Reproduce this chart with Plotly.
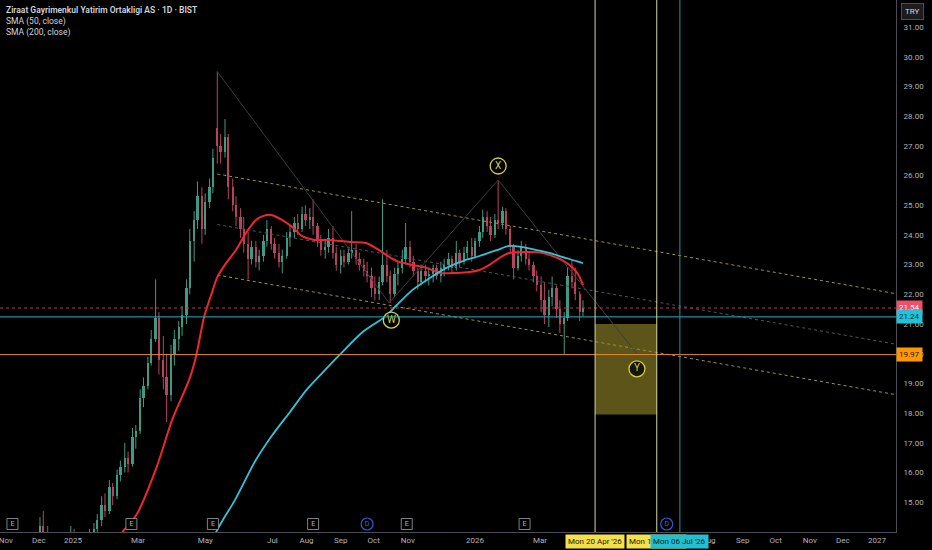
import pandas as pd
import plotly.graph_objects as go

# two bars per week (Mon / Thu), prices
bar_dates = pd.date_range("2024-11-04", "2026-04-09", freq="W-MON").union(
    pd.date_range("2024-11-04", "2026-04-09", freq="W-THU"))

open_ = [
    13.2, 13.4, 13.3, 12.9, 13.0, 12.8, 13.0, 13.5,
    13.6, 14.2, 13.9, 13.5, 13.4, 13.2, 13.3, 13.5, 13.6,
    13.9, 13.7, 13.6, 13.8, 13.7, 14.0, 14.1, 14.4, 14.9,
    14.7, 15.5, 15.2, 15.9, 16.2, 16.5, 16.3, 17.2,
    17.4, 18.5, 18.9, 19.7, 20.5, 21.2, 19.8, 19.2, 18.6,
    20.0, 20.5, 20.9, 21.3, 22.2, 23.8, 24.5, 25.3,
    24.2, 25.1, 25.6, 27.6, 27.0, 26.8, 27.3, 25.6, 25.0,
    24.6, 24.2, 23.7, 23.2, 23.6, 23.1, 23.3, 23.8, 24.2,
    23.7, 23.4, 23.1, 23.3, 23.9, 24.1, 24.4, 24.2, 24.7,
    24.5, 24.6, 24.3, 23.8, 23.5, 23.6, 23.9, 23.4,
    23.0, 23.3, 23.1, 23.4, 23.5, 23.2, 23.0, 22.8, 22.6,
    22.2, 22.0, 22.4, 23.0, 22.6, 22.0, 22.7, 22.9, 23.2,
    23.6, 23.1, 22.8, 22.4, 22.8, 22.6, 22.7, 22.9,
    22.6, 22.9, 23.0, 23.2, 22.9, 23.4, 23.1, 23.4, 23.6,
    23.3, 23.8, 24.1, 24.6, 24.3, 24.0, 24.5, 24.4, 24.8,
    24.2, 23.6, 22.9, 23.3, 23.6, 23.2, 23.0, 22.6,
    22.3, 21.8, 21.3, 21.9, 22.2, 21.5, 21.0, 21.2, 22.6,
    22.4, 22.0, 21.4,
]
high = [
    13.6, 13.7, 13.5, 13.2, 13.3, 13.1, 13.6, 13.8,
    14.5, 14.7, 14.2, 13.8, 13.7, 13.5, 13.6, 13.9, 14.2,
    14.1, 13.9, 13.9, 14.0, 14.1, 14.3, 14.6, 15.2, 15.3,
    15.75, 15.65, 16.1, 16.4, 17.0, 16.7, 17.5, 17.6,
    18.8, 19.2, 19.9, 20.8, 22.5, 21.4, 20.6, 20.0, 20.3,
    20.8, 21.1, 21.6, 22.5, 24.2, 24.8, 25.8, 25.6,
    25.4, 25.9, 26.9, 29.5, 27.4, 27.9, 27.4, 25.9, 25.3,
    24.9, 24.6, 24.1, 23.8, 23.8, 23.5, 24.0, 24.5, 24.3,
    23.9, 23.7, 23.5, 24.1, 24.3, 24.6, 24.7, 24.95, 25.0,
    24.9, 25.2, 24.4, 24.0, 23.8, 24.2, 24.3, 23.6,
    23.5, 23.5, 23.6, 24.8, 23.7, 23.4, 23.2, 23.1, 22.9,
    22.6, 22.6, 25.2, 23.5, 22.8, 22.9, 23.1, 23.5, 24.4,
    23.8, 23.3, 22.9, 23.0, 23.0, 22.9, 23.0, 23.0,
    23.1, 23.2, 23.4, 23.3, 23.8, 23.5, 23.6, 23.8, 23.9,
    23.9, 24.3, 24.85, 24.8, 24.6, 24.7, 25.85, 24.95, 24.9,
    24.3, 23.7, 23.5, 23.8, 23.7, 23.4, 23.1, 22.8,
    22.6, 22.4, 22.15, 22.6, 22.3, 21.8, 21.4, 22.9, 23.15,
    22.9, 22.1, 21.8,
]
low = [
    12.9, 13.1, 12.8, 12.6, 12.7, 12.5, 12.9, 13.2,
    13.5, 13.8, 13.4, 13.2, 13.0, 12.9, 13.0, 13.3, 13.5,
    13.6, 13.4, 13.3, 13.5, 13.6, 13.8, 14.0, 14.2, 14.5,
    14.6, 14.9, 15.1, 15.7, 16.0, 16.0, 16.2, 16.8,
    17.3, 18.2, 18.8, 19.6, 20.4, 19.3, 18.8, 17.7, 18.4,
    19.6, 20.1, 20.6, 21.0, 22.0, 23.1, 24.2, 23.7,
    24.0, 24.9, 25.4, 26.4, 26.4, 26.6, 25.2, 24.8, 24.3,
    23.9, 23.4, 22.5, 23.0, 22.9, 22.8, 23.1, 23.6, 23.5,
    23.2, 22.9, 22.7, 23.2, 23.6, 23.9, 24.0, 24.1, 24.3,
    24.2, 24.0, 23.6, 23.3, 23.2, 23.4, 23.2, 22.8,
    22.7, 22.9, 23.0, 23.2, 23.0, 22.8, 22.6, 22.4, 21.9,
    21.8, 21.8, 22.3, 22.4, 21.7, 21.9, 22.3, 22.7, 23.0,
    22.9, 22.6, 22.15, 22.3, 22.4, 22.3, 22.4, 22.5,
    22.4, 22.6, 22.8, 22.7, 22.8, 22.9, 23.0, 23.2, 23.1,
    23.2, 23.6, 23.9, 24.1, 23.8, 23.9, 24.2, 24.2, 24.0,
    23.4, 22.5, 22.8, 23.1, 23.0, 22.8, 22.4, 22.1,
    21.4, 21.0, 20.9, 21.6, 21.2, 20.7, 19.97, 21.1, 22.2,
    21.8, 21.1, 21.25,
]
close = [
    13.4, 13.3, 12.9, 13.0, 12.8, 13.0, 13.5, 13.6,
    14.2, 13.9, 13.5, 13.4, 13.2, 13.3, 13.5, 13.6, 13.9,
    13.7, 13.6, 13.8, 13.7, 14.0, 14.1, 14.4, 14.9, 14.7,
    15.5, 15.2, 15.9, 16.2, 16.5, 16.3, 17.2, 17.4,
    18.5, 18.9, 19.7, 20.5, 21.2, 19.8, 19.2, 18.6, 20.0,
    20.5, 20.9, 21.3, 22.2, 23.8, 24.5, 25.3, 24.2,
    25.1, 25.6, 26.6, 27.0, 26.8, 27.3, 25.6, 25.0, 24.6,
    24.2, 23.7, 23.2, 23.6, 23.1, 23.3, 23.8, 24.2, 23.7,
    23.4, 23.1, 23.3, 23.9, 24.1, 24.4, 24.2, 24.7, 24.5,
    24.6, 24.3, 23.8, 23.5, 23.6, 23.9, 23.4, 23.0,
    23.3, 23.1, 23.4, 23.5, 23.2, 23.0, 22.8, 22.6, 22.2,
    22.0, 22.4, 23.0, 22.6, 22.0, 22.7, 22.9, 23.2, 23.6,
    23.1, 22.8, 22.4, 22.8, 22.6, 22.7, 22.9, 22.6,
    22.9, 23.0, 23.2, 22.9, 23.4, 23.1, 23.4, 23.6, 23.3,
    23.8, 24.1, 24.6, 24.3, 24.0, 24.5, 24.4, 24.8, 24.2,
    23.6, 22.9, 23.3, 23.6, 23.2, 23.0, 22.6, 22.3,
    21.8, 21.3, 21.9, 22.2, 21.5, 21.0, 21.2, 22.6, 22.4,
    22.0, 21.4, 21.54,
]

# moving averages
sma50_dates = ["2025-02-08", "2025-02-15", "2025-02-28", "2025-03-18", "2025-04-01",
               "2025-04-17", "2025-04-23", "2025-04-30", "2025-05-07", "2025-05-12",
               "2025-05-20", "2025-05-29", "2025-06-07", "2025-06-16", "2025-06-23",
               "2025-06-30", "2025-07-10", "2025-07-19", "2025-07-28", "2025-08-08",
               "2025-08-22", "2025-09-09", "2025-09-24", "2025-10-06", "2025-10-15",
               "2025-10-24", "2025-11-05", "2025-11-18", "2025-11-30", "2025-12-15",
               "2025-12-27", "2026-01-05", "2026-01-14", "2026-01-23", "2026-02-01",
               "2026-02-13", "2026-02-26", "2026-03-10", "2026-03-21", "2026-03-30",
               "2026-04-05", "2026-04-09"]
sma50 = [13.56, 14.0, 14.6, 16.19, 17.77,
         19.18, 19.96, 21.24, 22.04, 22.58,
         23.05, 23.49, 24.06, 24.50, 24.64,
         24.67, 24.50, 24.27, 23.96, 23.83,
         23.83, 23.76, 23.73, 23.49, 23.26,
         23.09, 22.99, 22.89, 22.72, 22.72,
         22.75, 22.82, 22.99, 23.22, 23.39,
         23.42, 23.42, 23.32, 23.15, 22.92,
         22.65, 22.31]

sma200_dates = ["2025-05-05", "2025-05-11", "2025-05-17", "2025-05-28", "2025-06-16",
                "2025-07-01", "2025-07-17", "2025-08-01", "2025-08-16", "2025-08-31",
                "2025-09-21", "2025-10-11", "2025-10-22", "2025-11-05", "2025-11-21",
                "2025-12-06", "2025-12-21", "2026-01-05", "2026-01-21", "2026-02-01",
                "2026-02-13", "2026-02-26", "2026-03-10", "2026-03-21", "2026-04-03",
                "2026-04-09"]
sma200 = [13.56, 14.0, 14.40, 15.07, 16.42,
          17.26, 18.04, 18.78, 19.38, 19.96,
          20.73, 21.24, 21.64, 22.14, 22.55,
          22.89, 23.12, 23.29, 23.49, 23.63,
          23.59, 23.49, 23.39, 23.26, 23.12,
          23.05]

# drawings
x_range = ["2024-10-26 17:00", "2027-01-18 05:00"]
y_range = [13.997, 31.909]
chan_dates = ["2025-05-12", "2027-01-18 05:00"]
chan_upper = [26.05, 22.02]
chan_mid = [24.35, 20.32]
chan_lower = [22.65, 18.62]
wxy_dates = ["2025-05-12", "2025-10-15", "2026-01-22", "2026-05-28"]
wxy_prices = [29.5, 21.71, 25.85, 20.0]
wave_dates = ["2025-10-17", "2026-01-22", "2026-05-28"]
wave_prices = [21.13, 26.32, 19.49]
wave_names = ["W", "X", "Y"]
box_dates = ["2026-04-20", "2026-06-15"]
box_prices = [17.95, 21.0]
vline_dates = ["2026-04-20", "2026-06-15", "2026-07-06"]
vline_colors = ["#d9d6a2", "#d9d6a2", "#2a93a6"]
level_prices = [21.54, 21.24, 19.97]
earn_dates = ["2024-11-07", "2025-02-23", "2025-05-08", "2025-08-07", "2025-10-31", "2026-02-15"]
div_dates = ["2025-09-25", "2026-06-24"]

tick_dates = ["2024-11-01", "2024-12-01", "2025-01-01", "2025-03-01", "2025-05-01",
              "2025-07-01", "2025-08-01", "2025-09-01", "2025-10-01", "2025-11-01",
              "2026-01-01", "2026-03-01", "2026-08-01", "2026-09-01", "2026-10-01",
              "2026-11-01", "2026-12-01", "2027-01-01"]
tick_text = ["Nov", "Dec", "2025", "Mar", "May", "Jul", "Aug", "Sep", "Oct", "Nov",
             "2026", "Mar", "Aug", "Sep", "Oct", "Nov", "Dec", "2027"]
price_ticks = list(range(15, 32))

GREEN = "#3f9a84"
RED = "#b8435f"
FONT = "Roboto"

n = min(len(bar_dates), len(close))
df = pd.DataFrame({"date": bar_dates[:n], "open": open_[:n], "high": high[:n],
                   "low": low[:n], "close": close[:n]})
df["up"] = df["close"] >= df["open"]

fig = go.Figure()

# wicks
for is_up, col in [(True, GREEN), (False, RED)]:
    part = df[df["up"] == is_up]
    xs, ys = [], []
    for d, lo, hi in zip(part["date"], part["low"], part["high"]):
        xs += [d, d, None]
        ys += [lo, hi, None]
    fig.add_trace(go.Scatter(x=xs, y=ys, mode="lines", line=dict(color=col, width=1),
                             hoverinfo="skip", showlegend=False))

# bodies
body = (df["close"] - df["open"]).abs().clip(lower=0.05)
base = df[["open", "close"]].min(axis=1)
fig.add_trace(go.Bar(x=df["date"], y=body, base=base, width=2.1 * 86400000,
                     marker=dict(color=[GREEN if u else RED for u in df["up"]], line=dict(width=0)),
                     hoverinfo="skip", showlegend=False))

# channel and wave lines
for vals, col in [(chan_upper, "#9a9440"), (chan_lower, "#9a9440"), (chan_mid, "#50545c")]:
    fig.add_trace(go.Scatter(x=chan_dates, y=vals, mode="lines",
                             line=dict(color=col, width=1, dash="dot"),
                             hoverinfo="skip", showlegend=False))
fig.add_trace(go.Scatter(x=wxy_dates, y=wxy_prices, mode="lines",
                         line=dict(color="#3a3d42", width=1),
                         hoverinfo="skip", showlegend=False))

# SMAs
fig.add_trace(go.Scatter(x=sma50_dates, y=sma50, mode="lines",
                         line=dict(color="#f0262f", width=2, shape="spline", smoothing=0.8),
                         hoverinfo="skip", showlegend=False))
fig.add_trace(go.Scatter(x=sma200_dates, y=sma200, mode="lines",
                         line=dict(color="#33c3d8", width=1.8, shape="spline", smoothing=0.8),
                         hoverinfo="skip", showlegend=False))

# wave labels
fig.add_trace(go.Scatter(x=wave_dates, y=wave_prices, mode="markers+text", text=wave_names,
                         textposition="middle center",
                         textfont=dict(family=FONT, size=10, color="#d6cc45"),
                         marker=dict(size=16, color="rgba(0,0,0,0.75)",
                                     line=dict(color="#d6cc45", width=1.3)),
                         hoverinfo="skip", showlegend=False))

# earnings / dividend markers along the bottom
mark_y = y_range[0] + (8 / 532) * (y_range[1] - y_range[0])
fig.add_trace(go.Scatter(x=earn_dates, y=[mark_y] * len(earn_dates), mode="markers+text",
                         text=["E"] * len(earn_dates), textposition="middle center",
                         textfont=dict(family=FONT, size=7, color="#b2b5be"),
                         marker=dict(symbol="square", size=11, color="#000000",
                                     line=dict(color="#7d8089", width=1)),
                         hoverinfo="skip", showlegend=False))
fig.add_trace(go.Scatter(x=div_dates, y=[mark_y] * len(div_dates), mode="markers+text",
                         text=["D"] * len(div_dates), textposition="middle center",
                         textfont=dict(family=FONT, size=7, color="#3d68e6"),
                         marker=dict(symbol="circle", size=12, color="rgba(0,0,0,0)",
                                     line=dict(color="#2f5bd8", width=1.2)),
                         hoverinfo="skip", showlegend=False))

# shapes
fig.add_shape(type="rect", xref="x", yref="y", x0=box_dates[0], x1=box_dates[1],
              y0=box_prices[0], y1=box_prices[1], fillcolor="#5c5418",
              line=dict(width=0), layer="below")
level_styles = [("#c2334a", "dot"), ("#2bb0c0", "solid"), ("#e8892c", "solid")]
for p, (col, dash) in zip(level_prices, level_styles):
    fig.add_shape(type="line", xref="paper", yref="y", x0=0, x1=1, y0=p, y1=p,
                  line=dict(color=col, width=1, dash=dash))
for d, col in zip(vline_dates, vline_colors):
    fig.add_shape(type="line", xref="x", yref="paper", x0=d, x1=d, y0=0, y1=1,
                  line=dict(color=col, width=1))

ann = []
# header text
for i, (txt, w) in enumerate([("Ziraat Gayrimenkul Yatirim Ortakligi AS · 1D · BIST", 600),
                              ("SMA (50, close)", 400), ("SMA (200, close)", 400)]):
    ann.append(dict(xref="paper", yref="paper", x=0.005, y=1 - (10 + 11.5 * i) / 532,
                    xanchor="left", yanchor="middle", showarrow=False, text=txt,
                    font=dict(family=FONT, size=8.5, color="#d1d4dc", weight=w)))
# price labels on the right scale
label_styles = [("#ef4f6a", "#ffffff"), ("#22c3d6", "#0c2f44"), ("#ff9800", "#1a1a1a")]
for p, (bg, fg) in zip(level_prices, label_styles):
    ann.append(dict(xref="paper", yref="y", x=1, y=p, xanchor="left", yanchor="middle",
                    showarrow=False, text=f"{p:.2f}", bgcolor=bg, borderpad=2,
                    font=dict(family=FONT, size=8, color=fg)))
ann.append(dict(xref="paper", yref="paper", x=1 + 17 / 896, y=1 - 12 / 532, xanchor="center",
                yanchor="middle", showarrow=False, text="TRY", bgcolor="#1c1c1f",
                bordercolor="#4a4d55", borderwidth=1, borderpad=3,
                font=dict(family=FONT, size=8, color="#d1d4dc")))
# crosshair date labels
for d, txt, bg in [(vline_dates[1], "Mon 15 Jun '26", "#f4e04a"),
                   (vline_dates[0], "Mon 20 Apr '26", "#f4e04a"),
                   (vline_dates[2], "Mon 06 Jul '26", "#22bfd3")]:
    ann.append(dict(xref="x", yref="paper", x=d, y=-9 / 532, xanchor="center", yanchor="middle",
                    showarrow=False, text=txt, bgcolor=bg, borderpad=2,
                    font=dict(family=FONT, size=8, color="#1a1a10")))

fig.update_layout(
    width=932, height=550,
    margin=dict(l=0, r=36, t=0, b=18),
    paper_bgcolor="#000000", plot_bgcolor="#000000",
    showlegend=False, bargap=0,
    annotations=ann,
    xaxis=dict(type="date", range=x_range, showgrid=False, zeroline=False,
               tickvals=tick_dates, ticktext=tick_text, ticks="",
               tickfont=dict(family=FONT, size=8, color="#b2b5be"),
               ticklabeloverflow="allow",
               showline=True, linecolor="#4a4d55", linewidth=1),
    yaxis=dict(range=y_range, side="right", showgrid=False, zeroline=False,
               tickvals=price_ticks, ticktext=[f"{v:.2f}" for v in price_ticks], ticks="",
               tickfont=dict(family=FONT, size=8, color="#b2b5be"), ticklabelstandoff=5,
               showline=True, linecolor="#4a4d55", linewidth=1),
)

# the page has a default 8px body margin; drop it so the figure fills the window
fig.write_html("out.html", config={"displayModeBar": False},
               post_script="document.body.style.margin='0';document.body.style.background='#000';")
